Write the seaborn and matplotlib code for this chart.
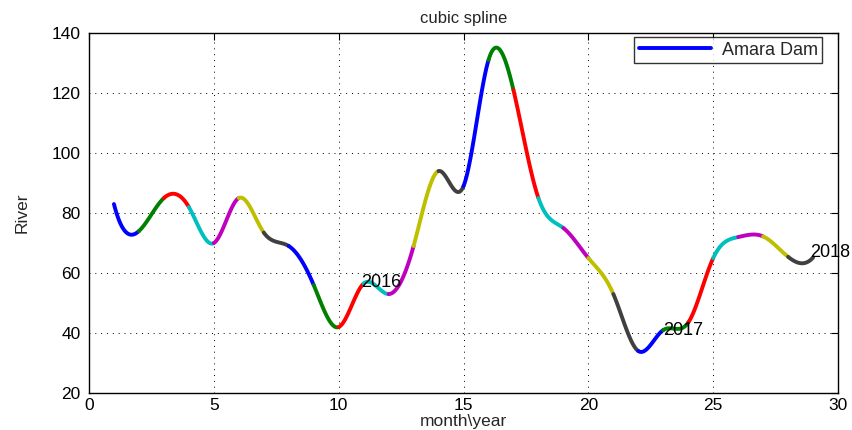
import numpy as np
import pandas as pd
import matplotlib
matplotlib.use("Agg")
import matplotlib.pyplot as plt
from matplotlib.lines import Line2D
import seaborn as sns

# ---- data (knots) ----
months = list(range(1, 30))
river = [83, 74, 85, 82, 70, 85, 73.5, 69, 56, 42, 56.5, 53, 69, 94, 89,
         131, 121, 85, 75, 65, 53, 34, 41, 43.5, 65, 72, 72.2, 65.4, 65.2]
year_labels = ["2016", "2017", "2018"]
year_x = [10.9, 23, 28.9]
year_y = [57, 41, 67]
segment_colors = [(0, 0, 1), (0, 0.5, 0), (1, 0, 0), (0, 0.75, 0.75),
                  (0.75, 0, 0.75), (0.75, 0.75, 0), (0.25, 0.25, 0.25)]
legend_label = "Amara Dam"

# ---- not-a-knot cubic spline (as MATLAB's spline) ----
x = np.asarray(months, float)
y = np.asarray(river, float)
n = len(x)
h = np.diff(x)
A = np.zeros((n, n))
b = np.zeros(n)
for i in range(1, n - 1):
    A[i, i - 1] = h[i - 1]
    A[i, i] = 2 * (h[i - 1] + h[i])
    A[i, i + 1] = h[i]
    b[i] = 6 * ((y[i + 1] - y[i]) / h[i] - (y[i] - y[i - 1]) / h[i - 1])
A[0, 0], A[0, 1], A[0, 2] = h[1], -(h[0] + h[1]), h[0]
A[-1, -3], A[-1, -2], A[-1, -1] = h[-1], -(h[-2] + h[-1]), h[-2]
M = np.linalg.solve(A, b)

rows = []
for i in range(n - 1):
    xs = np.linspace(x[i], x[i + 1], 40)
    hi = h[i]
    a1 = x[i + 1] - xs
    a2 = xs - x[i]
    ys = (M[i] * a1 ** 3 / (6 * hi) + M[i + 1] * a2 ** 3 / (6 * hi)
          + (y[i] / hi - M[i] * hi / 6) * a1 + (y[i + 1] / hi - M[i + 1] * hi / 6) * a2)
    for xv, yv in zip(xs, ys):
        rows.append({"x": xv, "y": yv, "seg": i})
df = pd.DataFrame(rows)
palette = {i: segment_colors[i % len(segment_colors)] for i in range(n - 1)}

# ---- plot ----
sns.set_theme(style="white")
plt.rcParams["font.family"] = ["Liberation Sans", "DejaVu Sans"]
fig = plt.figure(figsize=(8.53, 4.30), dpi=100)
ax = fig.add_axes([0.1043, 0.086, 0.8782, 0.837])

sns.lineplot(data=df, x="x", y="y", hue="seg", palette=palette, legend=False,
             linewidth=2.8, ax=ax, sort=False, estimator=None)

for lab, tx, ty in zip(year_labels, year_x, year_y):
    ax.text(tx, ty, lab, fontsize=13, va="center", ha="left", color="black")

ax.set_xlim(0, 30)
ax.set_ylim(20, 140)
ax.set_xticks(range(0, 31, 5))
ax.set_yticks(range(20, 141, 20))
ax.grid(True, color="black", linestyle=(0, (1, 5)), linewidth=0.7)
ax.tick_params(axis="y", pad=6)
ax.tick_params(direction="in", top=True, right=True, length=5, width=0.8,
               labelsize=12.5, colors="black")
for s in ax.spines.values():
    s.set_color("black")
    s.set_linewidth(1.0)
ax.set_title("cubic spline", fontsize=12, pad=7)
ax.set_xlabel("month\\year", fontsize=12.5, labelpad=1)
ax.set_ylabel("River", fontsize=12.5, labelpad=16)

handle = Line2D([], [], color=(0, 0, 1), linewidth=2.8)
leg = ax.legend([handle], [legend_label], loc="upper right", fontsize=13,
                frameon=True, fancybox=False, handlelength=4.0,
                bbox_to_anchor=(0.979, 0.989), borderaxespad=0.0,
                borderpad=0.25, handletextpad=0.6)
leg.get_frame().set_edgecolor("black")
leg.get_frame().set_linewidth(1.0)

fig.savefig("out.png", dpi=100)
